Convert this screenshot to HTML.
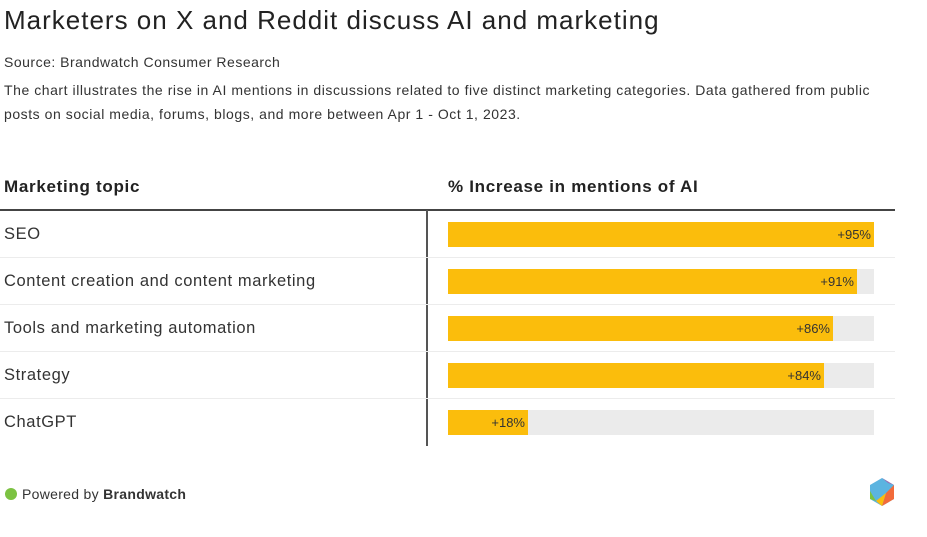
<!DOCTYPE html>
<html><head><style>
body{margin:0;width:927px;height:537px;background:#fff;font-family:"Liberation Sans",sans-serif;color:#222;position:relative;overflow:hidden}
.a{position:absolute;white-space:nowrap}
.bg{position:absolute;left:448px;width:426px;height:25px;background:#ebebeb}
.b{position:absolute;left:448px;height:25px;background:#fbbd0c}
.v{position:absolute;font-size:13px;color:#333;top:5px}
.sep{position:absolute;left:0;width:895px;height:1px;background:#ececec}
.lab{position:absolute;left:4px;font-size:16.5px;letter-spacing:.6px;color:#333}
</style></head><body>
<div class="a" style="left:4px;top:5px;font-size:26px;letter-spacing:1px;color:#222">Marketers on X and Reddit discuss AI and marketing</div>
<div class="a" style="left:4px;top:54px;font-size:14px;letter-spacing:.5px;color:#333">Source: Brandwatch Consumer Research</div>
<div class="a" style="left:4px;top:78px;font-size:14px;letter-spacing:.55px;color:#333;line-height:24px">The chart illustrates the rise in AI mentions in discussions related to five distinct marketing categories. Data gathered from public<br>posts on social media, forums, blogs, and more between Apr 1 - Oct 1, 2023.</div>
<div class="a" style="left:4px;top:177px;font-size:17px;letter-spacing:.7px;font-weight:bold;color:#222">Marketing topic</div>
<div class="a" style="left:448px;top:177px;font-size:17px;letter-spacing:.7px;font-weight:bold;color:#222">% Increase in mentions of AI</div>
<div style="position:absolute;left:0;top:209px;width:895px;height:2px;background:#444"></div>
<div style="position:absolute;left:426px;top:210px;width:2px;height:236px;background:#555"></div>
<div class="sep" style="top:257px"></div><div class="sep" style="top:304px"></div><div class="sep" style="top:351px"></div><div class="sep" style="top:398px"></div>
<div class="lab" style="top:225px">SEO</div>
<div class="lab" style="top:272px">Content creation and content marketing</div>
<div class="lab" style="top:319px">Tools and marketing automation</div>
<div class="lab" style="top:366px">Strategy</div>
<div class="lab" style="top:413px">ChatGPT</div>
<div class="bg" style="top:222px"></div><div class="b" style="top:222px;width:426px"><span class="v" style="right:3px">+95%</span></div>
<div class="bg" style="top:269px"></div><div class="b" style="top:269px;width:409px"><span class="v" style="right:3px">+91%</span></div>
<div class="bg" style="top:316px"></div><div class="b" style="top:316px;width:385px"><span class="v" style="right:3px">+86%</span></div>
<div class="bg" style="top:363px"></div><div class="b" style="top:363px;width:376px"><span class="v" style="right:3px">+84%</span></div>
<div class="bg" style="top:410px"></div><div class="b" style="top:410px;width:80px"><span class="v" style="right:3px">+18%</span></div>
<div style="position:absolute;left:5px;top:488px;width:12px;height:12px;border-radius:50%;background:#7cc242"></div>
<div class="a" style="left:22px;top:486px;font-size:14px;letter-spacing:.3px;color:#333">Powered by <b>Brandwatch</b></div>
<svg style="position:absolute;left:868px;top:477px" width="28" height="30" viewBox="0 0 28 30">
<polygon points="14,1 26,8 26,22 14,29 2,22 2,8" fill="#5bb4e0"/>
<polygon points="14,29 26,22 26,8 18,16" fill="#f26b3a"/>
<polygon points="14,29 18,16 8,24" fill="#fbbd0c"/>
<polygon points="2,22 8,24 2,14" fill="#7cc242"/>
<polygon points="14,1 26,8 20,6" fill="#9b6fb3"/>
</svg>
</body></html>
